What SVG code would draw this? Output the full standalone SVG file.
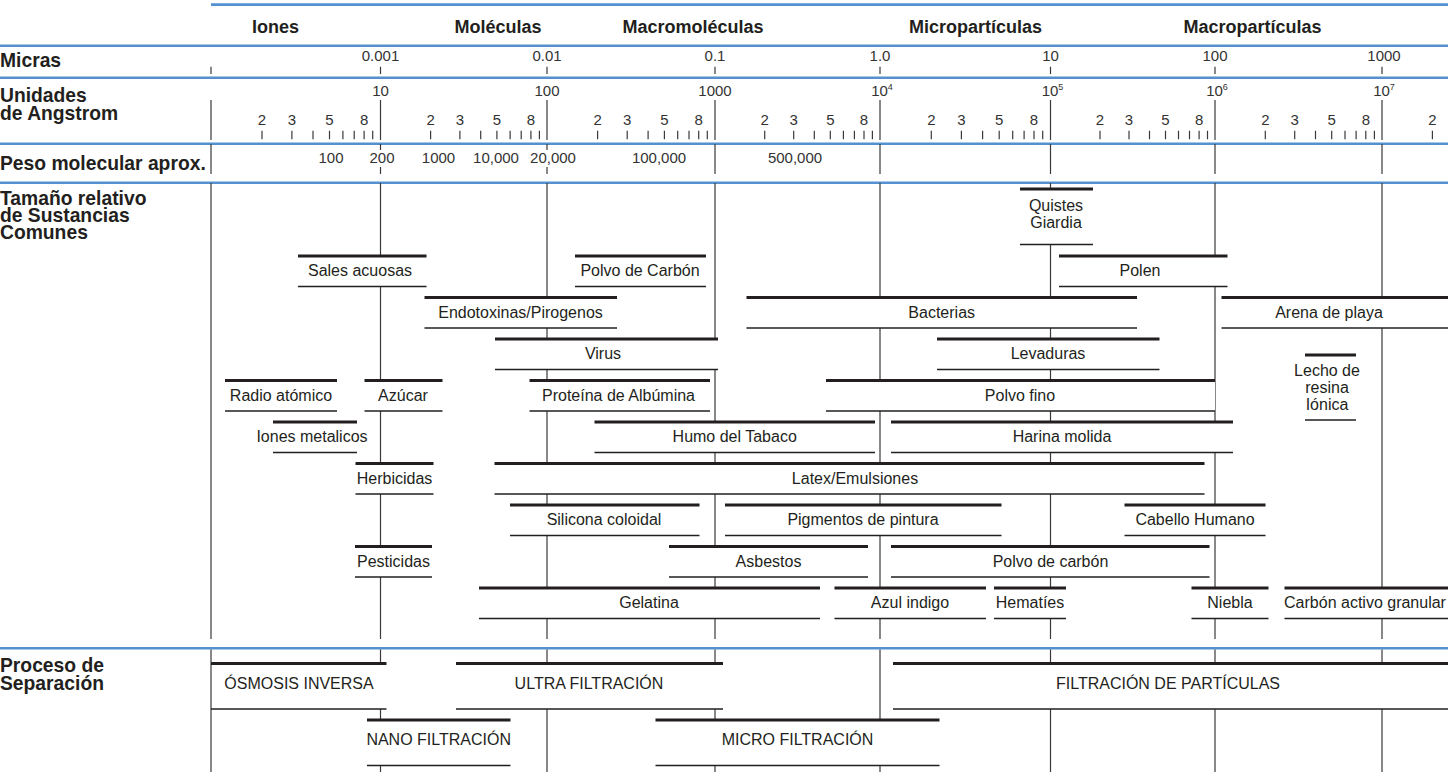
<svg xmlns="http://www.w3.org/2000/svg" width="1448" height="772" viewBox="0 0 1448 772">
<style>
.bl{stroke:#5590d0;stroke-width:2.6;fill:none}
.gr{stroke:#3a3a3a;stroke-width:1.2;fill:none}
.bx{fill:#fff;stroke:none}
.tp{stroke:#231f20;stroke-width:3.2}
.bt{stroke:#231f20;stroke-width:1.4}
text{font-family:"Liberation Sans",Arial,sans-serif;fill:#231f20}
.l{font-size:16px;text-anchor:middle}
.n{font-size:15px;text-anchor:middle;fill:#333}
.h{font-size:18px;font-weight:bold;text-anchor:middle}
.s{font-size:19.3px;font-weight:bold}
</style>
<rect width="1448" height="772" fill="#fff"/>

<g id="bands">
<line class="bl" x1="211" y1="4.6" x2="1448" y2="4.6"/>
<line class="bl" x1="0" y1="45.7" x2="1448" y2="45.7"/>
<line class="bl" x1="0" y1="77.7" x2="1448" y2="77.7"/>
<line class="bl" x1="0" y1="143.7" x2="1448" y2="143.7"/>
<line class="bl" x1="0" y1="182.7" x2="1448" y2="182.7"/>
<line class="bl" x1="0" y1="648.3" x2="1448" y2="648.3"/>
</g>

<g id="headers">
<text class="h" x="275.5" y="33">Iones</text>
<text class="h" x="498" y="33">Moléculas</text>
<text class="h" x="693" y="33">Macromoléculas</text>
<text class="h" x="975.6" y="33">Micropartículas</text>
<text class="h" x="1252.6" y="33">Macropartículas</text>
</g>

<g id="side-labels">
<text class="s" x="0" y="67">Micras</text>
<text class="s" x="0" y="101.5">Unidades</text>
<text class="s" x="0" y="120">de Angstrom</text>
<text class="s" x="0" y="170">Peso molecular aprox.</text>
<text class="s" x="0" y="205">Tamaño relativo</text>
<text class="s" x="0" y="222">de Sustancias</text>
<text class="s" x="0" y="239">Comunes</text>
<text class="s" x="0" y="672">Proceso de</text>
<text class="s" x="0" y="690">Separación</text>
</g>

<g id="micras-scale">
<path class="gr" d="M211 66.7V74M380.5 66.7V74M547 66.7V74M715 66.7V74M880 66.7V74M1050.5 66.7V74M1215 66.7V74M1382 66.7V74"/>
<text class="n" x="380.5" y="60.5">0.001</text>
<text class="n" x="547" y="60.5">0.01</text>
<text class="n" x="715" y="60.5">0.1</text>
<text class="n" x="880" y="60.5">1.0</text>
<text class="n" x="1050.5" y="60.5">10</text>
<text class="n" x="1215" y="60.5">100</text>
<text class="n" x="1384" y="60.5">1000</text>
</g>

<g id="angstrom-scale">
<path class="gr" d="M211 100V140M380.5 100V140M547 100V140M715 100V140M880 100V140M1050.5 100V140M1215 100V140M1382 100V140"/>
<path class="gr" d="M262 130.7V139.3M291.9 130.7V139.3M313 130.7V139.3M329.5 130.7V139.3M342.9 130.7V139.3M354.2 130.7V139.3M364.1 130.7V139.3M372.7 130.7V139.3
M430.6 130.7V139.3M459.9 130.7V139.3M480.7 130.7V139.3M496.9 130.7V139.3M510.1 130.7V139.3M521.2 130.7V139.3M530.9 130.7V139.3M539.4 130.7V139.3
M597.6 130.7V139.3M627.2 130.7V139.3M648.1 130.7V139.3M664.4 130.7V139.3M677.7 130.7V139.3M689 130.7V139.3M698.7 130.7V139.3M707.3 130.7V139.3
M764.7 130.7V139.3M793.7 130.7V139.3M814.3 130.7V139.3M830.3 130.7V139.3M843.4 130.7V139.3M854.4 130.7V139.3M864 130.7V139.3M872.4 130.7V139.3
M931.3 130.7V139.3M961.4 130.7V139.3M982.6 130.7V139.3M999.2 130.7V139.3M1012.7 130.7V139.3M1024.1 130.7V139.3M1034 130.7V139.3M1042.7 130.7V139.3
M1100 130.7V139.3M1129 130.7V139.3M1149.5 130.7V139.3M1165.5 130.7V139.3M1178.5 130.7V139.3M1189.5 130.7V139.3M1199.1 130.7V139.3M1207.5 130.7V139.3
M1265.3 130.7V139.3M1294.7 130.7V139.3M1315.5 130.7V139.3M1331.7 130.7V139.3M1345 130.7V139.3M1356.1 130.7V139.3M1365.8 130.7V139.3M1374.4 130.7V139.3
M1432.4 130.7V139.3"/>
<text class="n" x="380.5" y="96">10</text>
<text class="n" x="547" y="96">100</text>
<text class="n" x="715" y="96">1000</text>
<text class="n" x="882" y="96">10<tspan font-size="9" dy="-6">4</tspan></text>
<text class="n" x="1052.5" y="96">10<tspan font-size="9" dy="-6">5</tspan></text>
<text class="n" x="1217" y="96">10<tspan font-size="9" dy="-6">6</tspan></text>
<text class="n" x="1384" y="96">10<tspan font-size="9" dy="-6">7</tspan></text>
<g class="n">
<text class="n" x="262" y="125">2</text><text class="n" x="291.9" y="125">3</text><text class="n" x="329.5" y="125">5</text><text class="n" x="364.1" y="125">8</text>
<text class="n" x="430.6" y="125">2</text><text class="n" x="459.9" y="125">3</text><text class="n" x="496.9" y="125">5</text><text class="n" x="530.9" y="125">8</text>
<text class="n" x="597.6" y="125">2</text><text class="n" x="627.2" y="125">3</text><text class="n" x="664.4" y="125">5</text><text class="n" x="698.7" y="125">8</text>
<text class="n" x="764.7" y="125">2</text><text class="n" x="793.7" y="125">3</text><text class="n" x="830.3" y="125">5</text><text class="n" x="864" y="125">8</text>
<text class="n" x="931.3" y="125">2</text><text class="n" x="961.4" y="125">3</text><text class="n" x="999.2" y="125">5</text><text class="n" x="1034" y="125">8</text>
<text class="n" x="1100" y="125">2</text><text class="n" x="1129" y="125">3</text><text class="n" x="1165.5" y="125">5</text><text class="n" x="1199.1" y="125">8</text>
<text class="n" x="1265.3" y="125">2</text><text class="n" x="1294.7" y="125">3</text><text class="n" x="1331.7" y="125">5</text><text class="n" x="1365.8" y="125">8</text>
<text class="n" x="1432.4" y="125">2</text>
</g>
</g>

<g id="peso-scale">
<path class="gr" d="M211 144V174M380.5 144V150M380.5 167V174M547 144V150M547 167V174M715 144V174M880 144V174M1050.5 144V174M1215 144V174M1382 144V174"/>
<text class="n" x="331" y="163.3">100</text>
<text class="n" x="382" y="163.3">200</text>
<text class="n" x="438.5" y="163.3">1000</text>
<text class="n" x="496" y="163.3">10,000</text>
<text class="n" x="553" y="163.3">20,000</text>
<text class="n" x="659" y="163.3">100,000</text>
<text class="n" x="795" y="163.3">500,000</text>
</g>

<g id="connectors">
<path class="gr" d="M211 183V639M380.5 183V639M547 183V639M715 183V639M880 183V639M1050.5 183V639M1215 183V639M1382 183V639"/>
<path class="gr" d="M211 649.5V772M380.5 649.5V772M547 649.5V772M715 649.5V772M880 649.5V772M1050.5 649.5V772M1215 649.5V772M1382 649.5V772"/>
</g>

<g id="quistes"><rect class="bx" x="1020" y="189" width="73" height="55.5"/><line class="tp" x1="1020" y1="189" x2="1093" y2="189"/><line class="bt" x1="1020" y1="244.5" x2="1093" y2="244.5"/><text class="l" x="1056" y="211">Quistes</text><text class="l" x="1056" y="228">Giardia</text></g>

<g id="sales"><rect class="bx" x="298" y="256" width="128.5" height="30.5"/><line class="tp" x1="298" y1="256" x2="426.5" y2="256"/><line class="bt" x1="298" y1="286.5" x2="426.5" y2="286.5"/><text class="l" x="360" y="276">Sales acuosas</text></g>
<g id="polvo-carbon"><rect class="bx" x="575" y="256" width="131" height="30.5"/><line class="tp" x1="575" y1="256" x2="706" y2="256"/><line class="bt" x1="575" y1="286.5" x2="706" y2="286.5"/><text class="l" x="640" y="276">Polvo de Carbón</text></g>
<g id="polen"><rect class="bx" x="1059" y="256" width="168.5" height="30.5"/><line class="tp" x1="1059" y1="256" x2="1227.5" y2="256"/><line class="bt" x1="1059" y1="286.5" x2="1227.5" y2="286.5"/><text class="l" x="1140" y="276">Polen</text></g>

<g id="endotoxinas"><rect class="bx" x="424.5" y="297.5" width="192.5" height="30.5"/><line class="tp" x1="424.5" y1="297.5" x2="617" y2="297.5"/><line class="bt" x1="424.5" y1="328" x2="617" y2="328"/><text class="l" x="520.5" y="317.5">Endotoxinas/Pirogenos</text></g>
<g id="bacterias"><rect class="bx" x="746.5" y="297.5" width="390.5" height="30.5"/><line class="tp" x1="746.5" y1="297.5" x2="1137" y2="297.5"/><line class="bt" x1="746.5" y1="328" x2="1137" y2="328"/><text class="l" x="941.7" y="317.5">Bacterias</text></g>
<g id="arena"><rect class="bx" x="1221.5" y="297.5" width="226.5" height="30.5"/><line class="tp" x1="1221.5" y1="297.5" x2="1448" y2="297.5"/><line class="bt" x1="1221.5" y1="328" x2="1448" y2="328"/><text class="l" x="1329" y="317.5">Arena de playa</text></g>

<g id="virus"><rect class="bx" x="495" y="339" width="223" height="30.5"/><line class="tp" x1="495" y1="339" x2="718" y2="339"/><line class="bt" x1="495" y1="369.5" x2="718" y2="369.5"/><text class="l" x="603" y="359">Virus</text></g>
<g id="levaduras"><rect class="bx" x="937" y="339" width="222.5" height="30.5"/><line class="tp" x1="937" y1="339" x2="1159.5" y2="339"/><line class="bt" x1="937" y1="369.5" x2="1159.5" y2="369.5"/><text class="l" x="1048" y="359">Levaduras</text></g>
<g id="lecho"><rect class="bx" x="1305" y="355" width="51" height="65"/><line class="tp" x1="1305" y1="355" x2="1356" y2="355"/><line class="bt" x1="1305" y1="420" x2="1356" y2="420"/><text class="l" x="1327" y="376">Lecho de</text><text class="l" x="1327" y="393">resina</text><text class="l" x="1327" y="410">Iónica</text></g>

<g id="radio"><rect class="bx" x="225" y="380.5" width="112" height="30.5"/><line class="tp" x1="225" y1="380.5" x2="337" y2="380.5"/><line class="bt" x1="225" y1="411" x2="337" y2="411"/><text class="l" x="281" y="400.5">Radio atómico</text></g>
<g id="azucar"><rect class="bx" x="364.5" y="380.5" width="78" height="30.5"/><line class="tp" x1="364.5" y1="380.5" x2="442.5" y2="380.5"/><line class="bt" x1="364.5" y1="411" x2="442.5" y2="411"/><text class="l" x="403" y="400.5">Azúcar</text></g>
<g id="proteina"><rect class="bx" x="529.5" y="380.5" width="180.5" height="30.5"/><line class="tp" x1="529.5" y1="380.5" x2="710" y2="380.5"/><line class="bt" x1="529.5" y1="411" x2="710" y2="411"/><text class="l" x="618.5" y="400.5">Proteína de Albúmina</text></g>
<g id="polvo-fino"><rect class="bx" x="826" y="380.5" width="389" height="30.5"/><line class="tp" x1="826" y1="380.5" x2="1215" y2="380.5"/><line class="bt" x1="826" y1="411" x2="1215" y2="411"/><text class="l" x="1020" y="400.5">Polvo fino</text></g>

<g id="iones-metalicos"><rect class="bx" x="273" y="422" width="84" height="30.5"/><line class="tp" x1="273" y1="422" x2="357" y2="422"/><line class="bt" x1="273" y1="452.5" x2="357" y2="452.5"/><text class="l" x="312" y="442">Iones metalicos</text></g>
<g id="humo"><rect class="bx" x="594.5" y="422" width="280.5" height="30.5"/><line class="tp" x1="594.5" y1="422" x2="875" y2="422"/><line class="bt" x1="594.5" y1="452.5" x2="875" y2="452.5"/><text class="l" x="734.7" y="442">Humo del Tabaco</text></g>
<g id="harina"><rect class="bx" x="891" y="422" width="342" height="30.5"/><line class="tp" x1="891" y1="422" x2="1233" y2="422"/><line class="bt" x1="891" y1="452.5" x2="1233" y2="452.5"/><text class="l" x="1062" y="442">Harina molida</text></g>

<g id="herbicidas"><rect class="bx" x="355.5" y="463.5" width="78" height="30.5"/><line class="tp" x1="355.5" y1="463.5" x2="433.5" y2="463.5"/><line class="bt" x1="355.5" y1="494" x2="433.5" y2="494"/><text class="l" x="394.5" y="483.5">Herbicidas</text></g>
<g id="latex"><rect class="bx" x="494.5" y="463.5" width="710" height="30.5"/><line class="tp" x1="494.5" y1="463.5" x2="1204.5" y2="463.5"/><line class="bt" x1="494.5" y1="494" x2="1204.5" y2="494"/><text class="l" x="855" y="483.5">Latex/Emulsiones</text></g>

<g id="silicona"><rect class="bx" x="510" y="505" width="189.5" height="30.5"/><line class="tp" x1="510" y1="505" x2="699.5" y2="505"/><line class="bt" x1="510" y1="535.5" x2="699.5" y2="535.5"/><text class="l" x="604" y="525">Silicona coloidal</text></g>
<g id="pigmentos"><rect class="bx" x="725" y="505" width="276.5" height="30.5"/><line class="tp" x1="725" y1="505" x2="1001.5" y2="505"/><line class="bt" x1="725" y1="535.5" x2="1001.5" y2="535.5"/><text class="l" x="863" y="525">Pigmentos de pintura</text></g>
<g id="cabello"><rect class="bx" x="1124.5" y="505" width="141" height="30.5"/><line class="tp" x1="1124.5" y1="505" x2="1265.5" y2="505"/><line class="bt" x1="1124.5" y1="535.5" x2="1265.5" y2="535.5"/><text class="l" x="1195" y="525">Cabello Humano</text></g>

<g id="pesticidas"><rect class="bx" x="355" y="546.5" width="77" height="30.5"/><line class="tp" x1="355" y1="546.5" x2="432" y2="546.5"/><line class="bt" x1="355" y1="577" x2="432" y2="577"/><text class="l" x="393.5" y="566.5">Pesticidas</text></g>
<g id="asbestos"><rect class="bx" x="669" y="546.5" width="199" height="30.5"/><line class="tp" x1="669" y1="546.5" x2="868" y2="546.5"/><line class="bt" x1="669" y1="577" x2="868" y2="577"/><text class="l" x="768.5" y="566.5">Asbestos</text></g>
<g id="polvo-carbon-2"><rect class="bx" x="891" y="546.5" width="318.5" height="30.5"/><line class="tp" x1="891" y1="546.5" x2="1209.5" y2="546.5"/><line class="bt" x1="891" y1="577" x2="1209.5" y2="577"/><text class="l" x="1050.5" y="566.5">Polvo de carbón</text></g>

<g id="gelatina"><rect class="bx" x="479" y="588" width="341" height="30.5"/><line class="tp" x1="479" y1="588" x2="820" y2="588"/><line class="bt" x1="479" y1="618.5" x2="820" y2="618.5"/><text class="l" x="649" y="608">Gelatina</text></g>
<g id="azul"><rect class="bx" x="834.5" y="588" width="151.5" height="30.5"/><line class="tp" x1="834.5" y1="588" x2="986" y2="588"/><line class="bt" x1="834.5" y1="618.5" x2="986" y2="618.5"/><text class="l" x="910" y="608">Azul indigo</text></g>
<g id="hematies"><rect class="bx" x="994" y="588" width="72" height="30.5"/><line class="tp" x1="994" y1="588" x2="1066" y2="588"/><line class="bt" x1="994" y1="618.5" x2="1066" y2="618.5"/><text class="l" x="1030" y="608">Hematíes</text></g>
<g id="niebla"><rect class="bx" x="1191.5" y="588" width="77" height="30.5"/><line class="tp" x1="1191.5" y1="588" x2="1268.5" y2="588"/><line class="bt" x1="1191.5" y1="618.5" x2="1268.5" y2="618.5"/><text class="l" x="1230" y="608">Niebla</text></g>
<g id="carbon-activo"><rect class="bx" x="1284.5" y="588" width="163.5" height="30.5"/><line class="tp" x1="1284.5" y1="588" x2="1448" y2="588"/><line class="bt" x1="1284.5" y1="618.5" x2="1448" y2="618.5"/><text class="l" x="1365" y="608">Carbón activo granular</text></g>

<g id="osmosis"><rect class="bx" x="212" y="663.5" width="174.5" height="45.5"/><line class="tp" x1="211" y1="663.5" x2="386.5" y2="663.5"/><line class="bt" x1="211" y1="709" x2="386.5" y2="709"/><text class="l" x="299" y="689">ÓSMOSIS INVERSA</text></g>
<g id="ultra"><rect class="bx" x="456" y="663.5" width="267" height="45.5"/><line class="tp" x1="456" y1="663.5" x2="723" y2="663.5"/><line class="bt" x1="456" y1="709" x2="723" y2="709"/><text class="l" x="589" y="689">ULTRA FILTRACIÓN</text></g>
<g id="particulas"><rect class="bx" x="893" y="663.5" width="555" height="45.5"/><line class="tp" x1="893" y1="663.5" x2="1448" y2="663.5"/><line class="bt" x1="893" y1="709" x2="1448" y2="709"/><text class="l" x="1168" y="689">FILTRACIÓN DE PARTÍCULAS</text></g>
<g id="nano"><rect class="bx" x="367" y="720" width="143.5" height="45.5"/><line class="tp" x1="367" y1="720" x2="510.5" y2="720"/><line class="bt" x1="367" y1="765.5" x2="510.5" y2="765.5"/><text class="l" x="438.7" y="745">NANO FILTRACIÓN</text></g>
<g id="micro"><rect class="bx" x="655.5" y="720" width="284" height="45.5"/><line class="tp" x1="655.5" y1="720" x2="939.5" y2="720"/><line class="bt" x1="655.5" y1="765.5" x2="939.5" y2="765.5"/><text class="l" x="797.5" y="745">MICRO FILTRACIÓN</text></g>
</svg>
